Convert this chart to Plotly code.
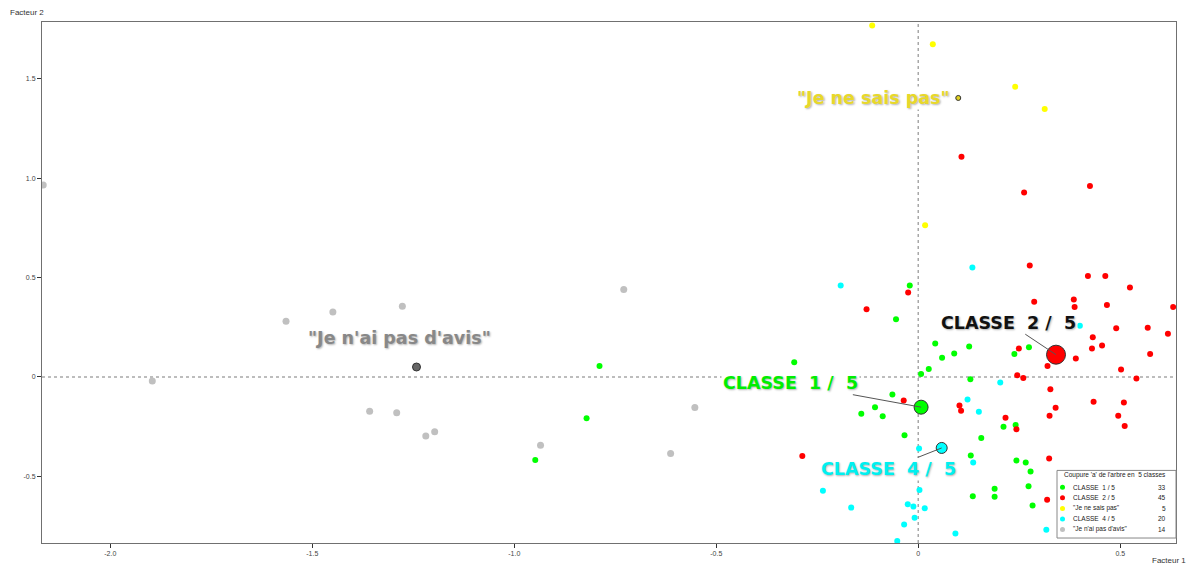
import plotly.graph_objects as go

# ---------------- data ----------------
class_names = ["CLASSE  1 / 5", "CLASSE  2 / 5", "\"Je ne sais pas\"", "CLASSE  4 / 5", "\"Je n'ai pas d'avis\""]
class_counts = [33, 45, 5, 20, 14]
class_colors = ["#00ff00", "#ff0000", "#ffff00", "#00ffff", "#c0c0c0"]

c1_x = [-0.021, -0.055, 0.042, 0.059, 0.026, 0.007, -0.307, -0.064, -0.789, -0.821, -0.948,
        0.089, 0.126, 0.238, 0.274, 0.129, 0.211, 0.241, -0.034, 0.156, -0.107, -0.141, -0.088,
        0.130, 0.243, 0.266, 0.278, 0.189, 0.189, 0.135, 0.273, 0.283]
c1_y = [0.460, 0.290, 0.168, 0.097, 0.040, 0.015, 0.074, -0.088, 0.055, -0.208, -0.417,
        0.118, 0.153, 0.115, 0.150, -0.012, -0.250, -0.242, -0.293, -0.307, -0.152, -0.185, -0.197,
        -0.395, -0.420, -0.430, -0.475, -0.562, -0.603, -0.600, -0.550, -0.647]

c2_x = [0.107, 0.262, 0.425, -0.025, -0.128, 0.276, 0.420, 0.463, 0.524, 0.287, 0.385, 0.387,
        0.467, 0.631, 0.490, 0.568, 0.618, 0.432, 0.430, 0.455, 0.574, 0.390, 0.249, 0.320,
        0.502, 0.540, 0.245, 0.260, 0.327, 0.434, 0.509, 0.340, 0.325, 0.495, 0.511, 0.216,
        0.243, 0.102, 0.106, -0.036, -0.287, 0.324, 0.319]
c2_y = [1.107, 0.927, 0.960, 0.425, 0.340, 0.560, 0.508, 0.508, 0.450, 0.378, 0.390, 0.352,
        0.362, 0.352, 0.245, 0.248, 0.217, 0.200, 0.143, 0.158, 0.115, 0.093, 0.143, 0.055,
        0.037, -0.008, 0.008, -0.005, -0.062, -0.125, -0.128, -0.155, -0.195, -0.195, -0.247, -0.205,
        -0.263, -0.143, -0.170, -0.118, -0.398, -0.410, -0.617]

c3_x = [-0.114, 0.036, 0.240, 0.313, 0.017]
c3_y = [1.768, 1.673, 1.460, 1.347, 0.763]

c4_x = [-0.192, 0.134, 0.400, 0.203, 0.122, 0.150, 0.002, -0.236, -0.166, 0.003, -0.026,
        -0.012, 0.016, -0.009, -0.035, -0.052, 0.092, 0.136, 0.317]
c4_y = [0.460, 0.550, 0.257, -0.028, -0.113, -0.175, -0.360, -0.572, -0.657, -0.568, -0.640,
        -0.652, -0.660, -0.708, -0.742, -0.825, -0.787, -0.430, -0.768]

c5_x = [-2.166, -1.896, -1.565, -1.449, -1.277, -1.358, -1.291, -1.219, -1.197, -0.935,
        -0.729, -0.553, -0.613]
c5_y = [0.965, -0.020, 0.280, 0.327, 0.355, -0.173, -0.180, -0.297, -0.275, -0.343,
        0.440, -0.153, -0.385]

center_x = [0.007, 0.341, 0.099, 0.058, -1.242]
center_y = [-0.152, 0.112, 1.403, -0.357, 0.050]
center_labels = ["CLASSE  1 /  5", "CLASSE  2 /  5", "\"Je ne sais pas\"", "CLASSE  4 /  5", "\"Je n'ai pas d'avis\""]
center_colors = ["#00ff00", "#ff0000", "#e0d020", "#00ffff", "#666666"]
center_text_colors = ["#00ee00", "#111111", "#e8d82a", "#00f0f0", "#888888"]
center_sizes = [14, 19, 5, 11, 8]

x_tickvals = [-2.0, -1.5, -1.0, -0.5, 0.0, 0.5]
x_ticktext = ["-2.0", "-1.5", "-1.0", "-0.5", "0", "0.5"]
y_tickvals = [-0.5, 0.0, 0.5, 1.0, 1.5]
y_ticktext = ["-0.5", "0", "0.5", "1.0", "1.5"]

# ---------------- figure ----------------
W, H = 1189, 569
ML, MR, MT, MB = 42, 13, 22, 23
PW, PH = W - ML - MR, H - MT - MB

fig = go.Figure()

pts = [(c1_x, c1_y), (c2_x, c2_y), (c3_x, c3_y), (c4_x, c4_y), (c5_x, c5_y)]
for i, (xs, ys) in enumerate(pts):
    fig.add_trace(go.Scatter(x=xs, y=ys, mode="markers", name=class_names[i],
                             marker=dict(color=class_colors[i], size=7 if i == 4 else 6,
                                         line=dict(width=0)),
                             showlegend=False))

for i in range(5):
    fig.add_trace(go.Scatter(x=[center_x[i]], y=[center_y[i]], mode="markers",
                             marker=dict(color=center_colors[i], size=center_sizes[i],
                                         line=dict(color="#333333", width=1)),
                             showlegend=False, hoverinfo="skip"))

# zero lines (dotted)
fig.add_shape(type="line", xref="x", yref="paper", x0=0, x1=0, y0=0, y1=1,
              line=dict(color="#a8a8a8", width=1.5, dash="dot"), layer="below")
fig.add_shape(type="line", xref="paper", yref="y", x0=0, x1=1, y0=0, y1=0,
              line=dict(color="#a8a8a8", width=1.5, dash="dot"), layer="below")

label_font = "DejaVu Sans, Verdana, sans-serif"
shadow = "1px 1px 2px rgba(0,0,0,0.30)"
LS = 17.5
# label offsets (pixels) relative to the class centres
arrow_off = {0: (-131, -24), 1: (-48, -32), 3: (-53, 21)}
for i, (ax, ay) in arrow_off.items():
    fig.add_annotation(x=center_x[i], y=center_y[i], ax=ax, ay=ay, text=center_labels[i],
                       showarrow=True, arrowhead=0, arrowwidth=1, arrowcolor="#555555",
                       standoff=0, bgcolor="white", borderpad=1,
                       font=dict(family=label_font, size=LS, color=center_text_colors[i],
                                 weight="bold", shadow=shadow))
fig.add_annotation(x=center_x[2], y=center_y[2], text=center_labels[2], showarrow=False,
                   xanchor="right", yanchor="middle", xshift=-6, bgcolor="white",
                   font=dict(family=label_font, size=LS, color=center_text_colors[2],
                             weight="bold", shadow=shadow))
fig.add_annotation(x=center_x[4], y=center_y[4], text=center_labels[4], showarrow=False,
                   xanchor="center", yanchor="middle", xshift=-17, yshift=29, bgcolor="white",
                   font=dict(family=label_font, size=LS, color=center_text_colors[4],
                             weight="bold", shadow=shadow))

# axis titles
fig.add_annotation(xref="paper", yref="paper", x=-34 / PW, y=1 + 10 / PH, text="Facteur 2",
                   showarrow=False, xanchor="left", yanchor="middle",
                   font=dict(family="Liberation Sans, Arial", size=8, color="#333333"))
fig.add_annotation(xref="paper", yref="paper", x=1 + 12 / PW, y=-18 / PH, text="Facteur 1",
                   showarrow=False, xanchor="right", yanchor="middle",
                   font=dict(family="Liberation Sans, Arial", size=8, color="#333333"))

# manual legend box
def px2paper(px, py):
    return (px - ML) / PW, (H - MB - py) / PH

lx0, ly0 = px2paper(1057, 473)
lx1, ly1 = px2paper(1176, 541)
fig.add_shape(type="rect", xref="paper", yref="paper", x0=lx0, y0=ly1, x1=lx1, y1=ly0,
              line=dict(color="#888888", width=1), fillcolor="white", layer="above")
tx, ty = px2paper(1062, 478)
fig.add_annotation(xref="paper", yref="paper", x=tx, y=ty, text="Coupure 'a' de l'arbre en  5 classes",
                   showarrow=False, xanchor="left", yanchor="middle",
                   font=dict(family="Liberation Sans, Arial", size=6.5, color="#222222"))
for i in range(5):
    py = 490 + i * 10.6
    dx, dy = px2paper(1062.5, py)
    fig.add_shape(type="circle", xref="paper", yref="paper", xsizemode="pixel", ysizemode="pixel",
                  xanchor=dx, yanchor=dy, x0=-2.5, x1=2.5, y0=-2.5, y1=2.5,
                  fillcolor=class_colors[i], line=dict(width=0), layer="above")
    nx, ny = px2paper(1071, py)
    fig.add_annotation(xref="paper", yref="paper", x=nx, y=ny, text=class_names[i],
                       showarrow=False, xanchor="left", yanchor="middle",
                       font=dict(family="Liberation Sans, Arial", size=6.5, color="#222222"))
    cx, cy = px2paper(1168, py)
    fig.add_annotation(xref="paper", yref="paper", x=cx, y=cy, text=str(class_counts[i]),
                       showarrow=False, xanchor="right", yanchor="middle",
                       font=dict(family="Liberation Sans, Arial", size=6.5, color="#222222"))

axis_common = dict(showgrid=False, zeroline=False, showline=True, linecolor="#707070", linewidth=1,
                   mirror=True, ticks="outside", ticklen=4, tickcolor="#333333",
                   tickfont=dict(family="Liberation Sans, Arial", size=7, color="#444444"))
fig.update_xaxes(range=[-2.169, 0.638], tickvals=x_tickvals, ticktext=x_ticktext, **axis_common)
fig.update_yaxes(range=[-0.835, 1.785], tickvals=y_tickvals, ticktext=y_ticktext, **axis_common)

fig.update_layout(width=W, height=H, margin=dict(l=ML, r=MR, t=MT, b=MB, pad=0),
                  plot_bgcolor="white", paper_bgcolor="white", showlegend=False)

fig.write_html("out.html", config={"displayModeBar": False},
               post_script="document.body.style.margin='0';document.body.style.overflow='hidden';")
